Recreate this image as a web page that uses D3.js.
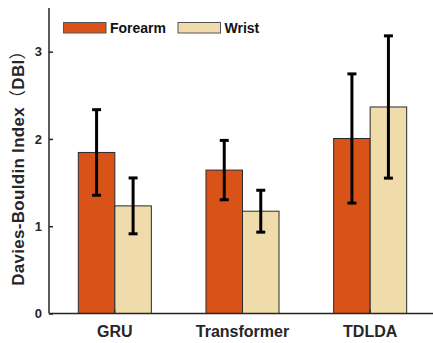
<!DOCTYPE html>
<html lang="en">
<head>
  <meta charset="UTF-8" />
  <title>Davies-Bouldin Index</title>
  <script src="https://d3js.org/d3.v7.min.js"></script>
  <style>
    body { margin: 0; background: #fff; }
    svg { display: block; font-family: "Liberation Sans", Arial, sans-serif; font-weight: bold; }
  </style>
</head>
<body>
  <div id="chart"></div>
  <script>
    // data
    const categories = ["GRU", "Transformer", "TDLDA"];
    const seriesNames = ["Forearm", "Wrist"];
    const forearmMean = [1.845, 1.643, 2.005];
    const forearmErr = [0.49, 0.34, 0.74];
    const wristMean = [1.233, 1.172, 2.366];
    const wristErr = [0.32, 0.24, 0.815];
    const yTicks = [0, 1, 2, 3];

    const colors = { Forearm: "#D95319", Wrist: "#F0DCAA" };

    const W = 433, H = 343;
    const svg = d3.select("#chart").append("svg")
      .attr("width", W).attr("height", H);

    const plotLeft = 49, plotBottom = 313.5, plotTop = 8, plotRight = 433;

    const y = d3.scaleLinear().domain([0, 3.5]).range([plotBottom, plotTop]);

    const x0 = d3.scaleBand().domain(categories)
      .range([51, 434]).paddingInner(0.428).paddingOuter(0.214);
    const x1 = d3.scaleBand().domain(seriesNames).range([0, x0.bandwidth()]);

    const rows = categories.map((c, i) => ({
      cat: c,
      vals: [
        { name: "Forearm", mean: forearmMean[i], err: forearmErr[i] },
        { name: "Wrist", mean: wristMean[i], err: wristErr[i] }
      ]
    }));

    // bars
    const groups = svg.append("g").selectAll("g").data(rows).join("g")
      .attr("transform", d => `translate(${x0(d.cat)},0)`);

    groups.selectAll("rect").data(d => d.vals).join("rect")
      .attr("x", d => x1(d.name))
      .attr("y", d => y(d.mean))
      .attr("width", x1.bandwidth())
      .attr("height", d => y(0) - y(d.mean))
      .attr("fill", d => colors[d.name])
      .attr("stroke", "#2a2a2a")
      .attr("stroke-width", 1);

    // error bars
    const eb = groups.selectAll("g.err").data(d => d.vals).join("g").attr("class", "err")
      .attr("transform", d => `translate(${x1(d.name) + x1.bandwidth() / 2},0)`);
    eb.append("line")
      .attr("y1", d => y(d.mean + d.err)).attr("y2", d => y(d.mean - d.err))
      .attr("stroke", "#000").attr("stroke-width", 3);
    eb.append("line")
      .attr("x1", -4.5).attr("x2", 4.5)
      .attr("y1", d => y(d.mean + d.err)).attr("y2", d => y(d.mean + d.err))
      .attr("stroke", "#000").attr("stroke-width", 3);
    eb.append("line")
      .attr("x1", -4.5).attr("x2", 4.5)
      .attr("y1", d => y(d.mean - d.err)).attr("y2", d => y(d.mean - d.err))
      .attr("stroke", "#000").attr("stroke-width", 3);

    // y axis
    const yAxis = svg.append("g")
      .attr("transform", `translate(${plotLeft},0)`)
      .call(d3.axisRight(y).tickValues(yTicks).tickSize(4).tickFormat(d3.format("d")));
    yAxis.select(".domain").remove();
    yAxis.selectAll(".tick line").attr("stroke", "#262626").attr("stroke-width", 1.5);
    yAxis.selectAll(".tick text")
      .attr("x", -7).attr("text-anchor", "end")
      .attr("font-size", 13).attr("font-family", "Liberation Sans, Arial, sans-serif")
      .attr("font-weight", "bold").attr("fill", "#262626");

    // x axis
    const xAxis = svg.append("g")
      .attr("transform", `translate(0,${plotBottom})`)
      .call(d3.axisTop(x0).tickSize(4));
    xAxis.select(".domain").remove();
    xAxis.selectAll(".tick line").attr("stroke", "#262626").attr("stroke-width", 1);
    xAxis.selectAll(".tick text")
      .attr("y", 23.5).attr("dy", 0)
      .attr("font-size", 16).attr("font-family", "Liberation Sans, Arial, sans-serif")
      .attr("font-weight", "bold").attr("fill", "#262626");

    // axis lines
    svg.append("line")
      .attr("x1", plotLeft).attr("x2", plotLeft).attr("y1", plotTop).attr("y2", plotBottom)
      .attr("stroke", "#262626").attr("stroke-width", 1.5);
    svg.append("line")
      .attr("x1", plotLeft).attr("x2", plotRight).attr("y1", plotBottom).attr("y2", plotBottom)
      .attr("stroke", "#262626").attr("stroke-width", 1.5);

    // y label
    const yLabel = svg.append("text")
      .attr("transform", "translate(24,164) rotate(-90)")
      .attr("text-anchor", "middle")
      .attr("font-size", 17).attr("letter-spacing", 0.3).attr("fill", "#262626");
    yLabel.append("tspan").text("Davies-Bouldin Index");
    yLabel.append("tspan").attr("font-weight", "normal")
      .attr("font-family", "Noto Sans CJK SC").text("（");
    yLabel.append("tspan").text("DBI");
    yLabel.append("tspan").attr("font-weight", "normal")
      .attr("font-family", "Noto Sans CJK SC").text("）");

    // legend
    const legendX = [63.5, 178];
    const legend = svg.append("g").selectAll("g").data(seriesNames).join("g")
      .attr("transform", (d, i) => `translate(${legendX[i]},22.5)`);
    legend.append("rect")
      .attr("width", 42.5).attr("height", 10.5)
      .attr("fill", d => colors[d])
      .attr("stroke", "#555").attr("stroke-width", 1);
    legend.append("text")
      .attr("x", 46.5).attr("y", 10.8)
      .attr("font-size", 14).attr("fill", "#111")
      .text(d => d);
  </script>
</body>
</html>
